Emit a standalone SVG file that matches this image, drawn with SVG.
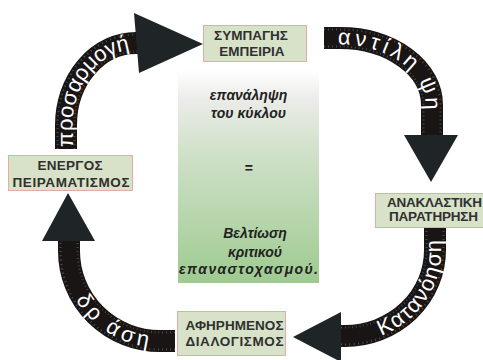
<svg xmlns="http://www.w3.org/2000/svg" width="483" height="360" viewBox="0 0 483 360">
  <defs>
    <linearGradient id="centerFill" x1="0" y1="0" x2="0" y2="1">
      <stop offset="0" stop-color="#ffffff"/>
      <stop offset="0.14" stop-color="#ebece8"/>
      <stop offset="0.4" stop-color="#cfe0c8"/>
      <stop offset="1" stop-color="#9ecb90"/>
    </linearGradient>
    <!-- shaft centre lines -->
    <path id="p1" d="M66 149 L66 125 A70 82 0 0 1 136 43 L140 43"/>
    <path id="p2" d="M324 38 L340 38 A92 67 0 0 1 432 105 L432 137"/>
    <path id="p3" d="M435 227 L435 250 A90 86 0 0 1 345 336 L339 336"/>
    <path id="p4" d="M175 341 L160 341 A91 90 0 0 1 69 251 L69 238"/>
    <!-- reversed lines so the lower labels read left to right -->
    <path id="p3t" d="M339 336 L345 336 A90 86 0 0 0 435 250 L435 227"/>
    <path id="p4t" d="M69 238 L69 251 A91 90 0 0 0 160 341 L175 341"/>
  </defs>
  <style>
    .box{fill:#d8e2c8;stroke:#e6aaa6;stroke-width:1}
    .lbl{font-family:"Liberation Sans",Arial,sans-serif;font-weight:bold;font-size:13.5px;fill:#303030;text-anchor:middle}
    .shaft{fill:none;stroke:#1a1515;stroke-width:22}
    .ticks{fill:none;stroke:#8c8c8c;stroke-width:19;stroke-dasharray:1 3;opacity:0.45}
    .core{fill:none;stroke:#1a1515;stroke-width:15}
    .head{fill:#1f2427}
    .atxt{font-family:"Liberation Sans",Arial,sans-serif;font-size:22px;fill:#ffffff}
    .ctxt{font-family:"Liberation Sans",Arial,sans-serif;font-weight:bold;font-style:italic;font-size:14px;fill:#222222;text-anchor:middle}
  </style>

  <!-- central summary panel -->
  <g id="summary">
    <rect x="178" y="70" width="141" height="213" fill="url(#centerFill)"/>
    <text class="ctxt" x="248.5" y="100">επανάληψη</text>
    <text class="ctxt" x="248.5" y="118">του κύκλου</text>
    <text class="ctxt" x="248.5" y="172.5">=</text>
    <text class="ctxt" x="255" y="238">Βελτίωση</text>
    <text class="ctxt" x="255" y="257">κριτικού</text>
    <text class="ctxt" x="248.5" y="273.5" textLength="139" lengthAdjust="spacing">επαναστοχασμού.</text>
  </g>

  <!-- cycle arrows -->
  <g id="connectors">
    <g id="arrow-adapt">
      <use href="#p1" class="shaft"/>
      <use href="#p1" class="ticks"/>
      <use href="#p1" class="core"/>
      <polygon class="head" points="134,13 139,73 203,44"/>
      <text class="atxt" dy="6.5"><textPath href="#p1" startOffset="2" textLength="134" lengthAdjust="spacing">προσαρμογή</textPath></text>
    </g>
    <g id="arrow-perceive">
      <use href="#p2" class="shaft"/>
      <use href="#p2" class="ticks"/>
      <use href="#p2" class="core"/>
      <polygon class="head" points="404,135 458,135 431,182"/>
      <text class="atxt" dy="6.5"><textPath href="#p2" startOffset="14" textLength="132" lengthAdjust="spacing">αντίλη ψη</textPath></text>
    </g>
    <g id="arrow-understand">
      <use href="#p3" class="shaft"/>
      <use href="#p3" class="ticks"/>
      <use href="#p3" class="core"/>
      <polygon class="head" points="341,312 341,362 293,337"/>
      <text class="atxt" dy="6.5"><textPath href="#p3t" startOffset="40" textLength="114" lengthAdjust="spacing">Κατανόηση</textPath></text>
    </g>
    <g id="arrow-act">
      <use href="#p4" class="shaft"/>
      <use href="#p4" class="ticks"/>
      <use href="#p4" class="core"/>
      <polygon class="head" points="42,241 95,241 68,193"/>
      <text class="atxt" dy="6.5"><textPath href="#p4t" startOffset="60" textLength="84" lengthAdjust="spacing">δρ άση</textPath></text>
    </g>
  </g>

  <!-- stages -->
  <g id="concrete-experience">
    <rect class="box" x="203.5" y="25.5" width="103" height="36"/>
    <text class="lbl" x="251" y="39.5">ΣΥΜΠΑΓΗΣ</text>
    <text class="lbl" x="252" y="55.5">ΕΜΠΕΙΡΙΑ</text>
  </g>
  <g id="reflective-observation">
    <rect class="box" x="375.5" y="193.5" width="115" height="34"/>
    <text class="lbl" x="434.5" y="206.5" textLength="95" lengthAdjust="spacing">ΑΝΑΚΛΑΣΤΙΚΗ</text>
    <text class="lbl" x="433.5" y="220.5" textLength="89" lengthAdjust="spacing">ΠΑΡΑΤΗΡΗΣΗ</text>
  </g>
  <g id="abstract-conceptualisation">
    <rect class="box" x="177.5" y="311.5" width="108" height="44"/>
    <text class="lbl" x="234.5" y="329.5" textLength="98" lengthAdjust="spacing">ΑΦΗΡΗΜΕΝΟΣ</text>
    <text class="lbl" x="234.5" y="346" textLength="98" lengthAdjust="spacing">ΔΙΑΛΟΓΙΣΜΟΣ</text>
  </g>
  <g id="active-experimentation">
    <rect class="box" x="8.5" y="155.5" width="124" height="35"/>
    <text class="lbl" x="70" y="170" textLength="65" lengthAdjust="spacing">ΕΝΕΡΓΟΣ</text>
    <text class="lbl" x="71" y="186.5" textLength="117" lengthAdjust="spacing">ΠΕΙΡΑΜΑΤΙΣΜΟΣ</text>
  </g>
</svg>
